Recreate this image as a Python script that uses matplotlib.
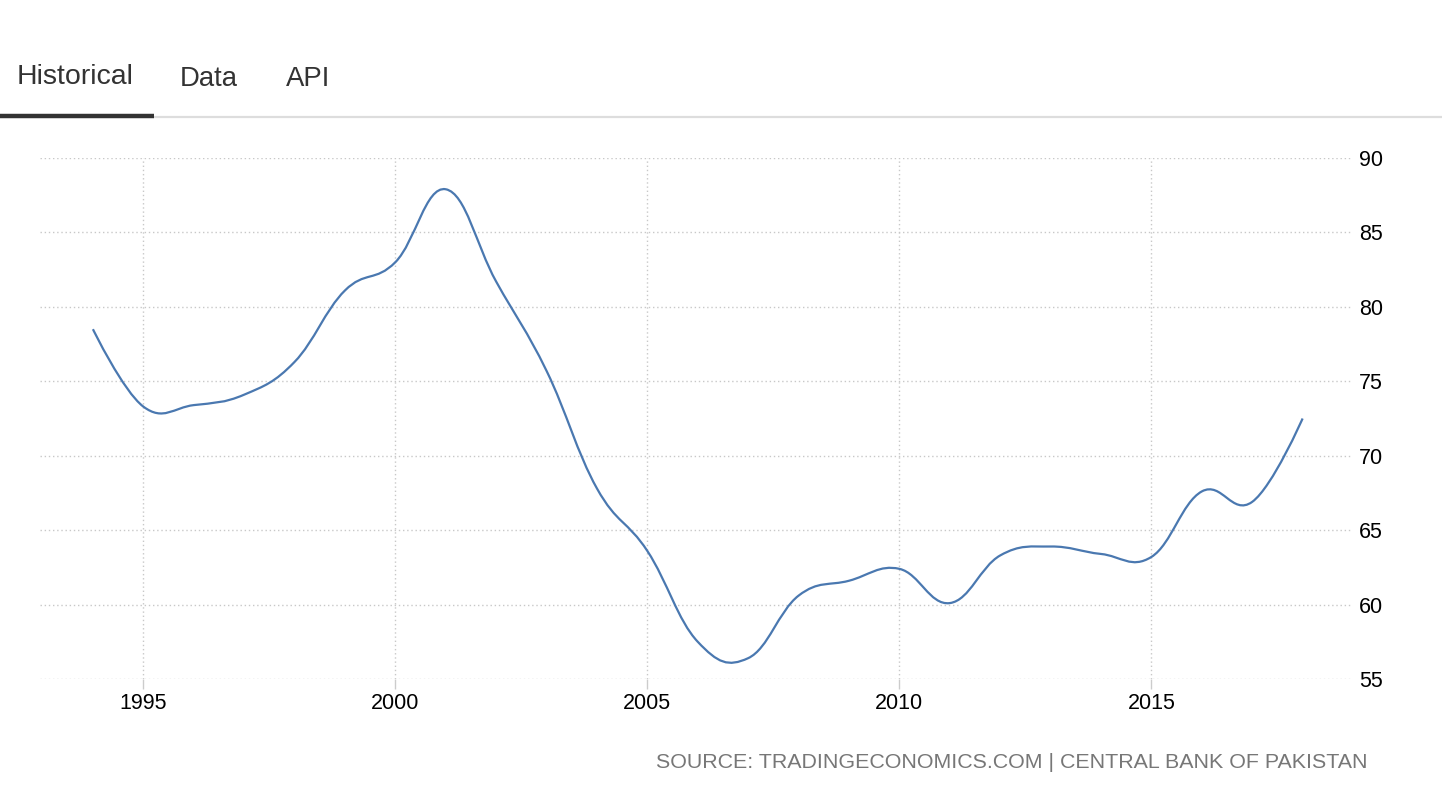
import matplotlib
matplotlib.use("Agg")
import matplotlib.pyplot as plt
from matplotlib.path import Path
from matplotlib.patches import PathPatch
import numpy as np

years = [1994, 1995, 1996, 1997, 1998, 1999, 2000, 2001, 2002, 2003, 2004, 2005,
         2006, 2007, 2008, 2009, 2010, 2011, 2012, 2013, 2014, 2015, 2016, 2017, 2018]
values = [78.5, 73.3, 73.4, 74.1, 76.3, 81.1, 83.0, 87.9, 81.7, 75.7, 67.8, 63.6,
          57.5, 56.4, 60.6, 61.6, 62.4, 60.1, 63.3, 63.9, 63.4, 63.2, 67.6, 66.9, 72.5]
xticks = [1995, 2000, 2005, 2010, 2015]
yticks = [55, 60, 65, 70, 75, 80, 85, 90]
tabs = ["Historical", "Data", "API"]
source_text = "SOURCE: TRADINGECONOMICS.COM | CENTRAL BANK OF PAKISTAN"

LINE = "#4a78b0"
W, H = 1442, 800
fig = plt.figure(figsize=(W / 100, H / 100), dpi=100)
fig.patch.set_facecolor("white")

# ---- header tabs ----
hdr = fig.add_axes([0, 0, 1, 1])
hdr.set_xlim(0, W)
hdr.set_ylim(H, 0)
hdr.axis("off")
tab_x = [17, 180, 286]
tab_y = [84, 86, 86]
tab_fs = [20.5, 19.8, 19.8]
for t, x, y, fs in zip(tabs, tab_x, tab_y, tab_fs):
    hdr.text(x, y, t, fontsize=fs, family="Liberation Sans", color="#333333",
             ha="left", va="baseline")
hdr.plot([154, W], [117, 117], color="#dddddd", lw=1.6, solid_capstyle="butt")
hdr.plot([0, 154], [115.8, 115.8], color="#333333", lw=3.2, solid_capstyle="butt")
hdr.text(1367, 763, source_text, fontsize=15.4, family="Liberation Sans",
         color="#777777", ha="right", va="center")

# ---- chart ----
L, R, T, B = 40, 1352, 158, 679
ax = fig.add_axes([L / W, (H - B) / H, (R - L) / W, (B - T) / H])
ax.set_xlim(1992.95, 2018.98)
ax.set_ylim(55, 90)
for s in ax.spines.values():
    s.set_visible(False)
ax.set_xticks(xticks)
ax.set_yticks(yticks)
ax.yaxis.tick_right()
ax.tick_params(axis="y", length=0, pad=5, labelsize=15.5, labelcolor="black")
ax.tick_params(axis="x", length=7, width=1, color="#cccccc", pad=3,
               labelsize=15.5, labelcolor="black")
for lab in ax.get_xticklabels() + ax.get_yticklabels():
    lab.set_family("Liberation Sans")
ax.grid(True, color="#c8c8c8", linestyle=(0, (1, 2)), linewidth=1)
ax.set_axisbelow(True)

# smooth spline (bezier) through data points
x = np.array(years, dtype=float)
y = np.array(values, dtype=float)
sm, den = 1.5, 2.5
n = len(x)
lcx, lcy, rcx, rcy = x.copy(), y.copy(), x.copy(), y.copy()
for i in range(1, n - 1):
    px, py = x[i], y[i]
    lx, ly = x[i - 1], y[i - 1]
    nx, ny = x[i + 1], y[i + 1]
    lX = (sm * px + lx) / den
    lY = (sm * py + ly) / den
    rX = (sm * px + nx) / den
    rY = (sm * py + ny) / den
    corr = ((rY - lY) * (rX - px)) / (rX - lX) + py - rY
    lY += corr
    rY += corr
    lcx[i], lcy[i], rcx[i], rcy[i] = lX, lY, rX, rY

verts = [(x[0], y[0])]
codes = [Path.MOVETO]
for i in range(1, n):
    verts += [(rcx[i - 1], rcy[i - 1]), (lcx[i], lcy[i]), (x[i], y[i])]
    codes += [Path.CURVE4] * 3
patch = PathPatch(Path(verts, codes), facecolor="none", edgecolor=LINE,
                  lw=1.6, capstyle="butt", joinstyle="round", zorder=3)
ax.add_patch(patch)

fig.savefig("out.png", dpi=100, facecolor="white")
